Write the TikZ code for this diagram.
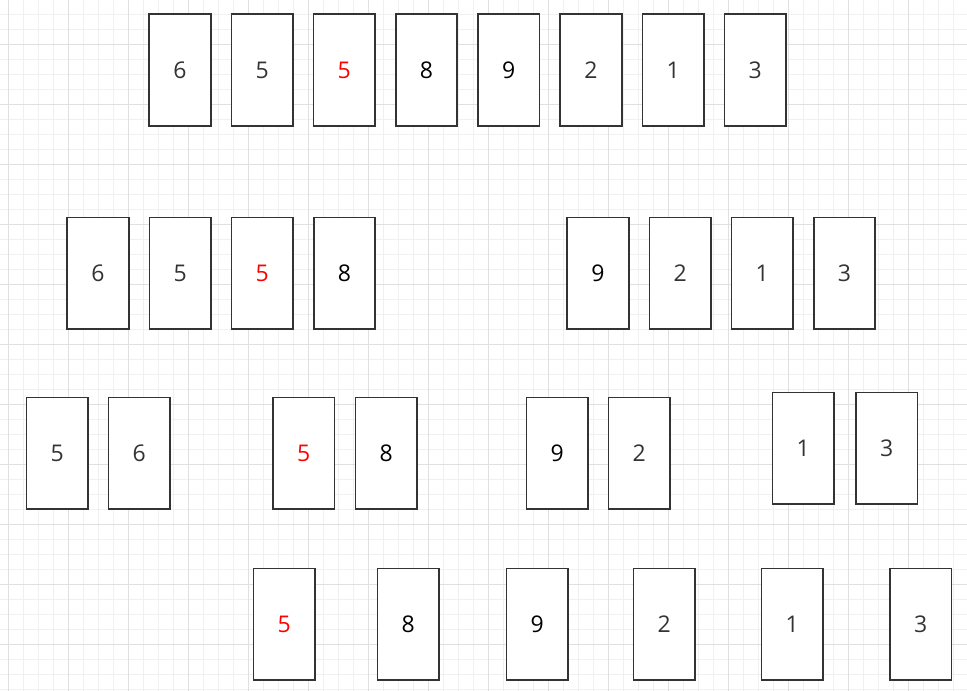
\documentclass[tikz,border=0pt]{standalone}
\usepackage{fontspec}
\setmainfont{Open Sans}
\definecolor{gridminor}{HTML}{F0F0F0}
\definecolor{gridmajor}{HTML}{E0E0E0}
\definecolor{cardline}{HTML}{333333}
\definecolor{digit}{HTML}{333333}
\begin{document}
\begin{tikzpicture}[x=1pt,y=-1pt,
  card/.style={draw=cardline,line width=1.7pt,fill=white,minimum width=61.5pt,minimum height=111.5pt,inner sep=0pt,anchor=north west,font=\fontsize{23}{23}\selectfont,text=digit},
  hot/.style={text=red},
  dark/.style={text=black}]
\useasboundingbox (0,0) rectangle (967,691);
\fill[white] (0,0) rectangle (967,691);
% grid
\foreach \i in {0,...,64} {\draw[gridminor,line width=0.9pt] ({8.3+15*\i},0) -- ({8.3+15*\i},691);}
\foreach \i in {0,...,46} {\draw[gridminor,line width=0.9pt] (0,{-0.7+15*\i}) -- (967,{-0.7+15*\i});}
\foreach \i in {0,...,16} {\draw[gridmajor,line width=0.9pt] ({8.3+60*\i},0) -- ({8.3+60*\i},691);}
\foreach \i in {0,...,11} {\draw[gridmajor,line width=0.9pt] (0,{-15.7+60*\i}) -- (967,{-15.7+60*\i});}
% row 1
\node[card] (a1) at (148.3,13.3) {6};
\node[card] (a2) at (230.5,13.3) {5};
\node[card,hot] (a3) at (312.7,13.3) {5};
\node[card,dark] (a4) at (394.9,13.3) {8};
\node[card,dark] (a5) at (477.1,13.3) {9};
\node[card] (a6) at (559.3,13.3) {2};
\node[card] (a7) at (641.5,13.3) {1};
\node[card] (a8) at (723.7,13.3) {3};
% row 2
\node[card] (b1) at (66.3,216.5) {6};
\node[card] (b2) at (148.5,216.5) {5};
\node[card,hot] (b3) at (230.7,216.5) {5};
\node[card,dark] (b4) at (312.9,216.5) {8};
\node[card,dark] (b5) at (566.3,216.5) {9};
\node[card] (b6) at (648.5,216.5) {2};
\node[card] (b7) at (730.7,216.5) {1};
\node[card] (b8) at (812.9,216.5) {3};
% row 3
\node[card] (c1) at (25.7,396.7) {5};
\node[card] (c2) at (107.5,396.7) {6};
\node[card,hot] (c3) at (272,396.7) {5};
\node[card,dark] (c4) at (354.5,396.7) {8};
\node[card,dark] (c5) at (525.5,396.7) {9};
\node[card] (c6) at (607.5,396.7) {2};
\node[card] (c7) at (771.7,391.7) {1};
\node[card] (c8) at (855,391.7) {3};
% row 4
\node[card,hot] (d1) at (252.7,567.7) {5};
\node[card,dark] (d2) at (376.7,567.7) {8};
\node[card,dark] (d3) at (505.5,567.7) {9};
\node[card] (d4) at (632.5,567.7) {2};
\node[card] (d5) at (760.5,567.7) {1};
\node[card] (d6) at (889,567.7) {3};
\end{tikzpicture}
\end{document}
